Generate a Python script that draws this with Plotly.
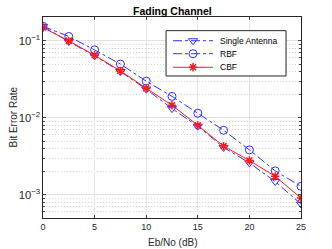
import plotly.graph_objects as go

snr = [0, 2.5, 5, 7.5, 10, 12.5, 15, 17.5, 20, 22.5, 25]
ber_single = [0.154, 0.098, 0.064, 0.040, 0.0236, 0.0132, 0.0078, 0.00414, 0.0026, 0.00149, 0.00076]
ber_rbf = [0.155, 0.114, 0.0764, 0.050, 0.030, 0.019, 0.0115, 0.0069, 0.00384, 0.00205, 0.00129]
ber_cbf = [0.149, 0.100, 0.065, 0.0407, 0.0243, 0.0146, 0.0080, 0.0043, 0.0028, 0.00174, 0.00091]
x_ticks = [0, 5, 10, 15, 20, 25]
series_names = ["Single Antenna", "RBF", "CBF"]

FONT = "Liberation Sans, Arial, sans-serif"
BLUE = "#3030ff"
RED = "#ff1a1a"
styles = [
    dict(line=dict(color=BLUE, width=1, dash="dashdot"),
         marker=dict(symbol="triangle-down-open", size=8, color=BLUE, line=dict(width=1))),
    dict(line=dict(color=BLUE, width=1, dash="dashdot"),
         marker=dict(symbol="circle-open", size=8, color=BLUE, line=dict(width=1))),
    dict(line=dict(color=RED, width=1),
         marker=dict(symbol="asterisk-open", size=7, color=RED, line=dict(width=1.5, color=RED))),
]
series = [ber_single, ber_rbf, ber_cbf]

fig = go.Figure()
for name, ys, st in zip(series_names, series, styles):
    fig.add_trace(go.Scatter(x=snr, y=ys, name=name, mode="lines+markers",
                             showlegend=False, **st))

# custom legend drawn on an overlay axis with [0,1] range in plot-area fraction
LX0, LX1, LY0, LY1 = 0.477, 0.942, 0.7065, 0.932
fig.add_trace(go.Scatter(x=[LX0, LX1, LX1, LX0, LX0], y=[LY0, LY0, LY1, LY1, LY0],
                         mode="lines", fill="toself", fillcolor="white",
                         line=dict(color="#262626", width=1), hoverinfo="skip",
                         showlegend=False, xaxis="x2", yaxis="y2"))
entry_y = [0.882, 0.8174, 0.7498]
SX0, SX1, TX = 0.504, 0.659, 0.6795
for name, ey, st in zip(series_names, entry_y, styles):
    fig.add_trace(go.Scatter(x=[SX0, SX1], y=[ey, ey], mode="lines", line=st["line"],
                             hoverinfo="skip", showlegend=False, xaxis="x2", yaxis="y2"))
    fig.add_trace(go.Scatter(x=[(SX0 + SX1) / 2], y=[ey], mode="markers", marker=st["marker"],
                             hoverinfo="skip", showlegend=False, xaxis="x2", yaxis="y2"))
    fig.add_annotation(x=TX, y=ey, xref="x2", yref="y2", text=name, showarrow=False,
                       xanchor="left", yanchor="middle", font=dict(size=8.5, color="black"))

# title and axis titles as annotations in paper space
fig.add_annotation(x=0.5, y=1, xref="paper", yref="paper", yshift=6, text="<b>Fading Channel</b>",
                   showarrow=False, xanchor="center", yanchor="middle",
                   font=dict(size=10.5, color="black"))
fig.add_annotation(x=0.5, y=0, xref="paper", yref="paper", yshift=-24, text="Eb/No (dB)",
                   showarrow=False, xanchor="center", yanchor="middle",
                   font=dict(size=10, color="#262626"))
fig.add_annotation(x=0, y=0.5, xref="paper", yref="paper", xshift=-30, text="Bit Error Rate",
                   textangle=-90, showarrow=False, xanchor="center", yanchor="middle",
                   font=dict(size=10, color="#262626"))

fig.update_layout(
    width=332, height=249,
    margin=dict(l=43, r=31, t=17, b=31),
    paper_bgcolor="white", plot_bgcolor="white",
    font=dict(family=FONT, size=9, color="#262626"),
    showlegend=False,
    xaxis2=dict(overlaying="x", range=[0, 1], visible=False, fixedrange=True),
    yaxis2=dict(overlaying="y", range=[0, 1], visible=False, fixedrange=True),
    xaxis=dict(range=[0, 25], tickvals=x_ticks, ticks="inside", ticklen=3, automargin=False,
               showline=True, linecolor="#262626", linewidth=1, mirror="ticks",
               showgrid=True, gridcolor="#e6e6e6", gridwidth=1, zeroline=False,
               tickfont=dict(size=9, color="#262626")),
    yaxis=dict(type="log", range=[-3.3, -0.69], dtick=1, exponentformat="power",
               ticks="inside", ticklen=3, automargin=False,
               showline=True, linecolor="#262626", linewidth=1, mirror="ticks",
               showgrid=True, gridcolor="#e0e0e0", gridwidth=1, zeroline=False,
               tickfont=dict(size=9, color="#262626"),
               minor=dict(dtick="D1", ticks="inside", ticklen=2, showgrid=True,
                          griddash="1px,2px", gridcolor="#d8d8d8")),
)
fig.write_html("out.html", config={"displayModeBar": False},
               post_script="document.body.style.margin='0';")
